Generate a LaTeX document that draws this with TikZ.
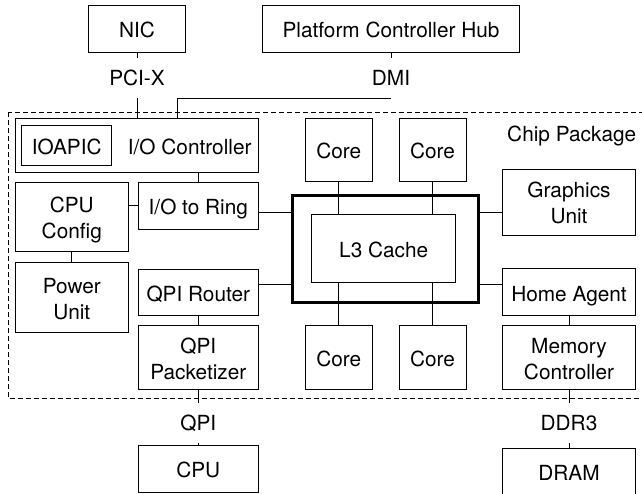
\documentclass[tikz,border=0pt]{standalone}
\usepackage{fontspec}
\setmainfont{TeX Gyre Heros}

\tikzset{
  blk/.style={draw, line width=0.5pt, align=center, inner sep=0pt,
              text height=#1, text depth=0pt},
  blk/.default=8.8pt,
  bus/.style={inner sep=0pt, minimum height=19.5pt,
              text height=7.5pt, text depth=0pt},
  ringbox/.style={draw, line width=1.5pt},
  chip/.style={line width=0.5pt, dash pattern=on 2.5pt off 1.5pt},
}

\begin{document}
\begin{tikzpicture}[x=0.5pt, y=-0.5pt, line width=0.5pt,
                    font=\fontsize{10.4pt}{12.9pt}\selectfont]

    \useasboundingbox (0,0) rectangle (642,493);
    \clip (0,0) rectangle (642,493);

    % Package outline
    \draw[chip] (8.3,112.3) rectangle (660,398.3);
    \node (pkgname) [anchor=east, text height=7.5pt, text depth=0pt, inner sep=0pt]
          at (636.7,133.5) {Chip Package};

    % Nodes
    \node (nic) [blk, minimum width=48.7pt, minimum height=23.6pt] at (137,28.6) {NIC};
    \node (pch) [blk, minimum width=128.3pt, minimum height=23.6pt] at (391,28.6) {Platform Controller Hub};

    \node (ioc) [blk, minimum width=121.5pt, minimum height=27pt] at (136.8,145.3) {};
    \node (apic) [blk, minimum width=45pt, minimum height=19.7pt] at (66.7,145.3) {IOAPIC};
    \node (iocname) [inner sep=0pt, text height=7.5pt, text depth=0pt] at (189.7,147) {I/O Controller};

    \node (cfg) [blk=21.7pt, minimum width=56.5pt, minimum height=34.7pt] at (71.8,217) {CPU\\Config};
    \node (pwr) [blk=21.7pt, minimum width=56.5pt, minimum height=35pt] at (71.8,297.3) {Power\\Unit};

    \node (io2r) [blk, minimum width=60pt, minimum height=23.4pt] at (198.3,205.7) {I/O to Ring};
    \node (qpir) [blk, minimum width=60pt, minimum height=23.3pt] at (198.3,292.3) {QPI Router};
    \node (qpip) [blk=21.7pt, minimum width=60pt, minimum height=31.7pt] at (198.3,357.3) {QPI\\Packetizer};
    \node (cpu) [blk, minimum width=60pt, minimum height=23.3pt] at (198.3,469) {CPU};

    \node (ring) [ringbox, minimum width=93pt, minimum height=53.25pt] at (385.3,248.75) {};
    \node (l3) [blk, minimum width=72pt, minimum height=34pt] at (383.7,248.3) {L3 Cache};

    \node (c1) [blk, minimum width=33.5pt, minimum height=31.7pt] at (338.8,150) {Core};
    \node (c2) [blk, minimum width=33.5pt, minimum height=31.7pt] at (432.5,150) {Core};
    \node (c3) [blk, minimum width=33.5pt, minimum height=31.7pt] at (338.8,357.3) {Core};
    \node (c4) [blk, minimum width=33.5pt, minimum height=31.7pt] at (432.5,357.3) {Core};

    \node (gpu) [blk=21.7pt, minimum width=66.7pt, minimum height=33pt] at (569,202) {Graphics\\Unit};
    \node (home) [blk, minimum width=66.7pt, minimum height=23.5pt] at (569,292.3) {Home Agent};
    \node (mc) [blk=21.7pt, minimum width=66.7pt, minimum height=31.7pt] at (569,357.3) {Memory\\Controller};
    \node (dram) [blk, minimum width=66.7pt, minimum height=23.5pt] at (569,471.8) {DRAM};

    % Bus names
    \node (pcix) [bus] at (137,78) {PCI-X};
    \node (dmi) [bus] at (391,78) {DMI};
    \node (qpi) [bus] at (198.3,422.5) {QPI};
    \node (ddr) [bus] at (569,423) {DDR3};
    \coordinate (dmiin) at (177.7,118.3);
    \coordinate (ringtop) at (0,212.6);
    \coordinate (ringbot) at (0,284.3);

    % Links
    \draw (nic) -- (pcix);
    \draw (pcix.south) -- (pcix.south |- ioc.north);
    \draw (pch) -- (dmi);
    \draw (dmi.south) -| (dmiin);

    \draw (io2r.north) -- (io2r.north |- ioc.south);
    \draw (io2r.west) -- (io2r.west -| cfg.east);
    \draw (cfg) -- (pwr);
    \draw (io2r.east |- ringtop) -- (ring.west |- ringtop);
    \draw (qpir.east |- ringbot) -- (ring.west |- ringbot);
    \draw (qpir) -- (qpip);
    \draw (qpip) -- (qpi) -- (cpu);

    \draw (c1.south) -- (c1.south |- l3.north);
    \draw (c2.south) -- (c2.south |- l3.north);
    \draw (c3.north) -- (c3.north |- l3.south);
    \draw (c4.north) -- (c4.north |- l3.south);

    \draw (ring.east |- ringtop) -- (gpu.west |- ringtop);
    \draw (ring.east |- ringbot) -- (home.west |- ringbot);
    \draw (home) -- (mc);
    \draw (mc) -- (ddr) -- (dram);

\end{tikzpicture}
\end{document}
